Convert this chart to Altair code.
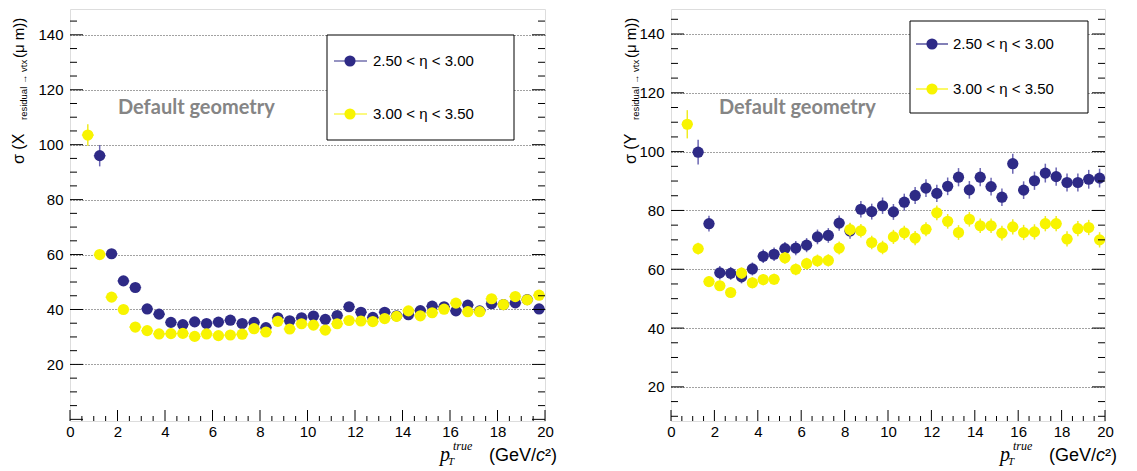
import altair as alt
import numpy as np
import pandas as pd

# ---------------- data ----------------
PT = [0.75, 1.25, 1.75, 2.25, 2.75, 3.25, 3.75, 4.25, 4.75, 5.25,
      5.75, 6.25, 6.75, 7.25, 7.75, 8.25, 8.75, 9.25, 9.75, 10.25,
      10.75, 11.25, 11.75, 12.25, 12.75, 13.25, 13.75, 14.25, 14.75, 15.25,
      15.75, 16.25, 16.75, 17.25, 17.75, 18.25, 18.75, 19.25, 19.75]
PT_BLUE = PT[1:]

# left panel : sigma(X)
L_BLUE = [96.0, 60.3, 50.4, 48.0, 40.2, 38.3, 35.3, 34.5, 35.5, 34.9,
          35.4, 36.1, 34.9, 35.3, 33.4, 37.0, 35.9, 37.0, 37.6, 36.4,
          37.8, 41.0, 39.0, 37.1, 39.0, 37.7, 38.1, 39.6, 41.2, 41.0,
          39.5, 41.6, 39.5, 42.1, 41.8, 42.4, 43.6, 40.2]
L_BLUE_ERR = [3.9, 1.5, 1.3, 1.2, 1.1, 1.0, 1.0, 1.0, 1.0, 1.0,
              1.0, 1.0, 1.0, 1.0, 1.0, 1.1, 1.1, 1.1, 1.1, 1.1,
              1.1, 1.2, 1.2, 1.2, 1.2, 1.2, 1.2, 1.2, 1.3, 1.3,
              1.3, 1.3, 1.3, 1.3, 1.3, 1.3, 1.3, 1.3]
L_YEL = [103.5, 60.0, 44.5, 40.0, 33.6, 32.3, 31.1, 31.2, 31.3, 30.2,
         31.1, 30.5, 30.7, 31.0, 33.0, 31.8, 35.7, 32.9, 34.8, 34.3,
         32.5, 34.8, 36.0, 35.8, 35.6, 36.7, 37.5, 39.5, 37.7, 38.8,
         40.1, 42.3, 39.2, 39.2, 43.9, 41.8, 44.7, 43.5, 45.2]
L_YEL_ERR = [3.9, 1.3, 1.0, 1.0, 0.9, 0.9, 0.9, 0.9, 0.9, 0.9,
             0.9, 0.9, 0.9, 0.9, 1.0, 1.0, 1.0, 1.0, 1.0, 1.0,
             1.0, 1.0, 1.0, 1.0, 1.0, 1.1, 1.1, 1.1, 1.1, 1.1,
             1.1, 1.1, 1.1, 1.1, 1.2, 1.2, 1.2, 1.2, 1.2]

# right panel : sigma(Y)
R_BLUE = [99.8, 75.5, 58.8, 58.6, 57.4, 60.1, 64.4, 65.1, 67.0, 67.2,
          68.2, 71.0, 71.5, 75.7, 73.0, 80.4, 79.6, 81.6, 79.5, 82.8,
          85.1, 87.6, 85.8, 88.2, 91.3, 87.0, 91.3, 88.1, 84.5, 95.9,
          86.9, 90.1, 92.7, 91.5, 89.5, 89.5, 90.6, 91.0]
R_BLUE_ERR = [4.2, 2.7, 2.3, 2.2, 2.2, 2.2, 2.3, 2.3, 2.3, 2.4,
              2.4, 2.5, 2.5, 2.6, 2.6, 2.8, 2.7, 2.8, 2.7, 2.9,
              2.9, 3.0, 2.9, 3.0, 3.1, 3.0, 3.1, 3.0, 3.0, 3.4,
              3.0, 3.1, 3.2, 3.1, 3.1, 3.1, 3.2, 3.2]
R_YEL = [109.3, 67.0, 55.8, 54.4, 52.1, 58.7, 55.4, 56.5, 56.6, 63.9,
         60.0, 61.9, 62.9, 63.0, 67.2, 73.5, 73.1, 69.1, 67.4, 71.0,
         72.4, 70.6, 73.6, 79.2, 76.3, 72.5, 77.0, 74.8, 74.8, 72.3,
         74.4, 72.5, 72.7, 75.5, 75.5, 70.3, 73.8, 74.2, 70.0]
R_YEL_ERR = [4.8, 2.0, 1.8, 1.8, 1.8, 1.9, 1.9, 1.9, 1.9, 2.0,
             2.0, 2.0, 2.1, 2.1, 2.2, 2.3, 2.3, 2.3, 2.3, 2.4,
             2.4, 2.4, 2.4, 2.5, 2.5, 2.5, 2.5, 2.5, 2.5, 2.5,
             2.6, 2.6, 2.6, 2.6, 2.6, 2.6, 2.6, 2.6, 2.6]

X_TICKS = [0, 2, 4, 6, 8, 10, 12, 14, 16, 18, 20]
Y_TICKS = [20, 40, 60, 80, 100, 120, 140]
LEG_LABELS = ["2.50 < η < 3.00", "3.00 < η < 3.50"]
SERIES = ["b", "y"]
TAG = "Default geometry"

# ---------------- style ----------------
BLUE = "#2e2a86"
BLUE_ERR = "#6c67b3"
YELLOW = "#f8f400"
YELLOW_ERR = "#f0ec20"
FONT = "Liberation Sans"
SERIF = "Liberation Serif"


def one(text):
    return alt.Chart(pd.DataFrame({"t": [text]}))


def txt(text, x, y, size, font=FONT, style="normal", align="left",
        baseline="alphabetic", angle=0, weight="normal", color="black"):
    kw = dict(font=font, fontSize=size, fontStyle=style, align=align,
              baseline=baseline, fontWeight=weight, color=color)
    if angle:
        kw["angle"] = angle
    return one(text).mark_text(**kw).encode(
        text="t:N", x=alt.value(x), y=alt.value(y))


def panel(blue, blue_err, yel, yel_err, ydom, W, H, var, tx, leg):
    d = pd.concat([
        pd.DataFrame({"pt": PT_BLUE, "sigma": blue, "err": blue_err,
                      "series": "b"}),
        pd.DataFrame({"pt": PT, "sigma": yel, "err": yel_err,
                      "series": "y"}),
    ], ignore_index=True)
    xs = alt.Scale(domain=[0, 20], nice=False, zero=False)
    ys = alt.Scale(domain=ydom, nice=False, zero=False)
    base = alt.Chart(d).transform_calculate(
        lo="datum.sigma - datum.err", hi="datum.sigma + datum.err",
        xl="datum.pt - 0.25", xh="datum.pt + 0.25")

    xaxis = alt.Axis(values=X_TICKS, ticks=False, tickSize=0, domain=False,
                     grid=False, labelFontSize=15, labelFont=FONT,
                     labelColor="black", labelPadding=3, labelFlush=False,
                     labelOverlap=False, title=None)
    yaxis = alt.Axis(values=Y_TICKS, ticks=False, tickSize=0, domain=False,
                     grid=True, gridDash=[1, 2], gridColor="#444",
                     gridWidth=1, labelFontSize=15, labelFont=FONT,
                     labelColor="black", labelPadding=7, labelOverlap=False,
                     title=None)

    def X(f):
        return alt.X(f, scale=xs, axis=xaxis)

    def Y(f):
        return alt.Y(f, scale=ys, axis=yaxis)

    layers = []
    for s, col, ecol in [("b", BLUE, BLUE_ERR), ("y", YELLOW, YELLOW_ERR)]:
        b = base.transform_filter(alt.datum.series == s)
        layers.append(b.mark_rule(color=ecol, strokeWidth=1.5).encode(
            x=X("pt:Q"), y=Y("lo:Q"), y2="hi:Q"))
        layers.append(b.mark_rule(color=ecol, strokeWidth=1.5).encode(
            x=X("xl:Q"), x2="xh:Q", y=Y("sigma:Q")))
        layers.append(b.mark_circle(color=col, size=125, opacity=1).encode(
            x=X("pt:Q"), y=Y("sigma:Q")))

    # ROOT style ticks drawn inside the frame
    ylo = int(np.ceil(ydom[0] / 5.0) * 5)
    yv = np.arange(ylo, 150, 5)
    ymaj = pd.DataFrame({"v": [v for v in yv if v % 20 == 0]})
    ymin = pd.DataFrame({"v": [v for v in yv if v % 20 != 0]})
    xv = np.arange(0, 20.01, 0.5)
    xmaj = pd.DataFrame({"v": [v for v in xv if v % 2 == 0]})
    xmin = pd.DataFrame({"v": [v for v in xv if v % 2 != 0]})
    for df, ln in [(ymaj, 13), (ymin, 7)]:
        layers.append(alt.Chart(df).mark_rule(color="black", strokeWidth=1).encode(
            y=Y("v:Q"), x=alt.value(0), x2=alt.value(ln)))
        layers.append(alt.Chart(df).mark_rule(color="black", strokeWidth=1).encode(
            y=Y("v:Q"), x=alt.value(W - ln), x2=alt.value(W)))
    for df, ln in [(xmaj, 11), (xmin, 5)]:
        layers.append(alt.Chart(df).mark_rule(color="black", strokeWidth=1).encode(
            x=X("v:Q"), y=alt.value(H - ln), y2=alt.value(H)))

    # tag
    layers.append(txt(TAG, 48, 99, 20, font="Lato", weight="bold",
                      baseline="middle", color="#858585"))

    # legend
    x0, x1, y0, y1, lx0, lx1, mx, tx_leg, ly = leg
    layers.append(one("").mark_rect(fill="white", stroke="black",
                                    strokeWidth=1).encode(
        x=alt.value(x0), x2=alt.value(x1), y=alt.value(y0), y2=alt.value(y1)))
    ldf = pd.DataFrame({"label": LEG_LABELS, "series": SERIES, "ly": ly})
    cscale = alt.Scale(domain=SERIES, range=[BLUE, YELLOW])
    lc = alt.Chart(ldf)
    layers.append(lc.mark_rule(strokeWidth=1.2).encode(
        x=alt.value(lx0), x2=alt.value(lx1), y=alt.Y("ly:Q", scale=None),
        color=alt.Color("series:N", scale=cscale, legend=None)))
    layers.append(lc.mark_circle(size=125, opacity=1).encode(
        x=alt.value(mx), y=alt.Y("ly:Q", scale=None),
        color=alt.Color("series:N", scale=cscale, legend=None)))
    layers.append(lc.mark_text(font=FONT, fontSize=15, align="left",
                               baseline="middle", color="black").encode(
        x=alt.value(tx_leg), y=alt.Y("ly:Q", scale=None), text="label:N"))

    # y title  sigma (X_{residual -> vtx} (mu m))
    layers.append(txt("σ   (" + var, tx, 155, 16, angle=270,
                      baseline="middle"))
    layers.append(txt("residual → vtx", tx + 5, 111, 9.5, angle=270,
                      baseline="middle"))
    layers.append(txt("(μ m))", tx, 49, 15, angle=270, baseline="middle"))

    # x title  p_T^{true} (GeV/c^2)
    E = W + 12
    layers.append(txt("²)", E, H + 40, 18, align="right"))
    layers.append(txt("c", E - 12, H + 40, 18, style="italic", align="right"))
    layers.append(txt("(GeV/", E - 21, H + 40, 18, align="right"))
    layers.append(txt("p", E - 117, H + 40, 20, font=SERIF, style="italic"))
    layers.append(txt("true", E - 104, H + 29, 12, font=SERIF, style="italic"))
    layers.append(txt("T", E - 109, H + 44, 11, font=SERIF, style="italic"))

    return alt.layer(*layers).properties(width=W, height=H)


left = panel(L_BLUE, L_BLUE_ERR, L_YEL, L_YEL_ERR, [-0.6, 149.4], 475, 412,
             "X", -51,
             (257, 444, 26, 131, 264, 297, 280, 303, [52, 105]))
right = panel(R_BLUE, R_BLUE_ERR, R_YEL, R_YEL_ERR, [8.4, 148.5], 434, 412,
              "Y", -40,
              (239, 417, 12, 104, 245, 277, 261, 282, [35, 80]))

chart = alt.hconcat(left, right, spacing=64,
                    padding={"left": 2, "top": 0, "right": 0, "bottom": 0}
                    ).resolve_scale(x="independent", y="independent",
                                    color="independent"
                    ).configure_view(stroke="black", strokeWidth=2
                    ).configure(font=FONT, background="white")

chart.save("out.html", embed_options={"renderer": "svg", "actions": False})
